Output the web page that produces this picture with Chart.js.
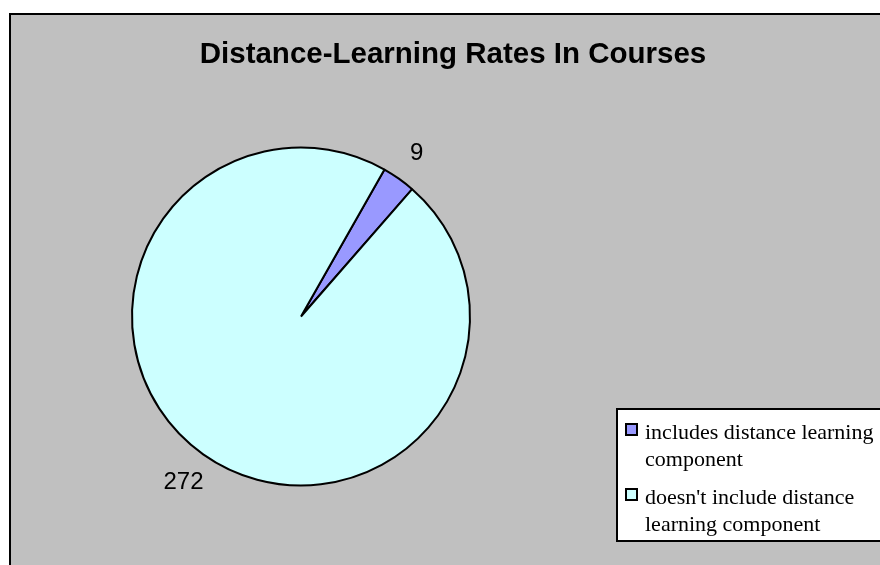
<!DOCTYPE html>
<html>
<head>
<meta charset="utf-8">
<script src="https://cdn.jsdelivr.net/npm/chart.js@4.4.0/dist/chart.umd.min.js"></script>
<style>
  body { margin: 0; background: #fff; }
  #wrap { width: 880px; height: 565px; }
</style>
</head>
<body>
<div id="wrap"><canvas id="myChart" width="880" height="565"></canvas></div>
<script>
// dati del grafico
const titolo = 'Distance-Learning Rates In Courses';
const categorie = [
    ['includes distance learning', 'component'],
    ["doesn't include distance", 'learning component']
];
const valori = [9, 272];
const colori = ['#9999FF', '#CCFFFF'];

// sfondo grigio con cornice, titolo, etichette e legenda disegnati a mano
const cornice = {
    id: 'cornice',
    beforeDraw(chart) {
        const c = chart.ctx;
        c.save();
        c.fillStyle = '#C0C0C0';
        c.fillRect(10, 14, chart.width, chart.height);
        c.strokeStyle = '#000';
        c.lineWidth = 2;
        c.strokeRect(10, 14, chart.width + 10, chart.height + 10);
        c.fillStyle = '#000';
        c.font = 'bold 29.5px "Liberation Sans", Arial';
        c.textAlign = 'center';
        c.textBaseline = 'alphabetic';
        c.fillText(titolo, 453, 63);
        c.restore();
    },
    afterDraw(chart) {
        const c = chart.ctx;
        const meta = chart.getDatasetMeta(0);
        const gap = [31, 34];
        c.save();
        c.fillStyle = '#000';
        c.font = '24px "Liberation Sans", Arial';
        c.textAlign = 'center';
        c.textBaseline = 'middle';
        meta.data.forEach(function (arc, i) {
            const mid = (arc.startAngle + arc.endAngle) / 2;
            const d = arc.outerRadius + gap[i];
            c.fillText(String(valori[i]), arc.x + Math.cos(mid) * d, arc.y + Math.sin(mid) * d);
        });

        // legenda
        c.fillStyle = '#fff';
        c.fillRect(617, 409, 280, 132);
        c.strokeStyle = '#000';
        c.lineWidth = 2;
        c.strokeRect(617, 409, 280, 132);
        c.font = '22px "Liberation Serif", "Times New Roman"';
        c.textAlign = 'left';
        c.textBaseline = 'alphabetic';
        let y = 439;
        categorie.forEach(function (righe, i) {
            c.fillStyle = colori[i];
            c.fillRect(626, y - 15, 11, 11);
            c.lineWidth = 2;
            c.strokeRect(626, y - 15, 11, 11);
            c.fillStyle = '#000';
            righe.forEach(function (r, k) {
                c.fillText(r, 645, y + k * 27);
            });
            y += 65;
        });
        c.restore();
    }
};

const ctx = document.getElementById('myChart').getContext('2d');
const myChart = new Chart(ctx, {
    type: 'pie',
    data: {
        labels: categorie,
        datasets: [{
            data: valori,
            backgroundColor: colori,
            borderColor: '#000',
            borderWidth: 2
        }]
    },
    options: {
        responsive: false,
        animation: false,
        rotation: 29.6,
        layout: {
            padding: { left: 131, right: 409, top: 146, bottom: 78 }
        },
        plugins: {
            legend: { display: false },
            tooltip: { enabled: false },
            title: { display: false }
        }
    },
    plugins: [cornice]
});
</script>
</body>
</html>
